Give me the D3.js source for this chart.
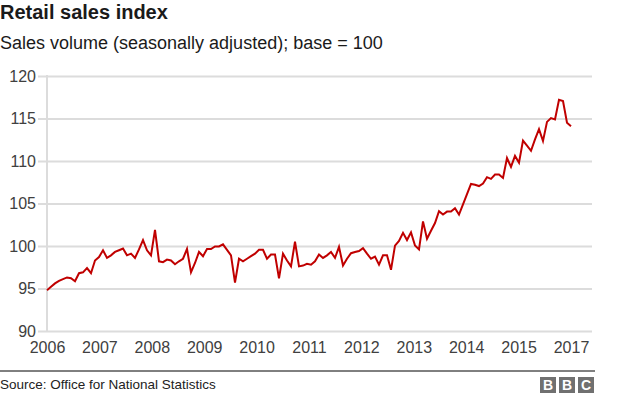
<!DOCTYPE html>
<html>
<head>
<meta charset="utf-8">
<script src="https://cdn.jsdelivr.net/npm/d3@7"></script>
<style>
  body { margin: 0; background: #fff; }
  svg text { font-family: "Liberation Sans", Arial, Helvetica, sans-serif; }
  .grid line { stroke: #dcdcdc; stroke-width: 2; }
  .grid text, .x-axis text { fill: #404040; font-size: 16px; }
</style>
</head>
<body>
<div id="chart"></div>
<script>
// monthly retail sales volume index, first to last month shown
const salesIndex = [
  94.8, 95.2, 95.6, 95.9, 96.1, 96.3, 96.2, 95.85, 96.8, 96.9, 97.4, 96.8,
  98.3, 98.7, 99.5, 98.6, 98.9, 99.3, 99.5, 99.7, 98.9, 99.1, 98.6, 99.6,
  100.7, 99.5, 98.9, 101.9, 98.2, 98.1, 98.4, 98.3, 97.85, 98.2, 98.5, 99.65,
  96.9, 98.0, 99.3, 98.8, 99.65, 99.65, 99.95, 99.95, 100.2, 99.55, 98.9, 95.7,
  98.5, 98.2, 98.5, 98.8, 99.1, 99.55, 99.55, 98.5, 99.0, 99.0, 96.2, 99.1,
  98.3, 97.6, 100.5, 97.6, 97.7, 97.9, 97.8, 98.2, 99.0, 98.6, 98.9, 99.3,
  98.6, 99.9, 97.7, 98.5, 99.15, 99.3, 99.4, 99.75, 99.1, 98.5, 98.75, 97.8,
  98.9, 98.9, 97.2, 100.05, 100.6, 101.55, 100.7, 101.6, 100.05, 99.6, 102.9, 100.85,
  101.8, 102.7, 104.1, 103.7, 104.05, 104.05, 104.45, 103.7, 104.9, 106.1, 107.3, 107.2,
  107.05, 107.35, 108.1, 107.9, 108.4, 108.4, 108.0, 110.35, 109.3, 110.6, 109.8, 112.4,
  111.8, 111.2, 112.55, 113.75, 112.35, 114.6, 115.05, 114.9, 117.2, 117.05, 114.5, 114.1
];
const yearLabels = ['2006', '2007', '2008', '2009', '2010', '2011', '2012', '2013', '2014', '2015', '2017'];
const yTicks = [90, 95, 100, 105, 110, 115, 120];

const width = 624, height = 398;
const plot = { left: 47, right: 592, dataRight: 571, top: 76, bottom: 331 };

const svg = d3.select('#chart').append('svg')
  .attr('width', width)
  .attr('height', height);

const x = d3.scaleLinear()
  .domain([0, salesIndex.length - 1])
  .range([plot.left, plot.dataRight]);

const y = d3.scaleLinear()
  .domain([90, 120])
  .range([plot.bottom, plot.top]);

// titles
svg.append('text')
  .attr('x', 0).attr('y', 19)
  .attr('font-size', 20).attr('font-weight', 'bold').attr('fill', '#1a1a1a')
  .text('Retail sales index');
svg.append('text')
  .attr('x', 0).attr('y', 49)
  .attr('font-size', 18).attr('fill', '#1a1a1a')
  .text('Sales volume (seasonally adjusted); base = 100');

// gridlines + y labels
const yAxis = d3.axisLeft(y)
  .tickValues(yTicks)
  .tickSize(-(plot.right - 38))
  .tickPadding(2);
svg.append('g')
  .attr('class', 'grid')
  .attr('transform', 'translate(38,0)')
  .call(yAxis)
  .call(g => g.select('.domain').remove());

svg.append('line')
  .attr('x1', plot.left).attr('x2', plot.left)
  .attr('y1', plot.top - 1).attr('y2', plot.bottom + 1)
  .attr('stroke', '#dcdcdc').attr('stroke-width', 2);

// x labels are spread evenly along the axis
const n = salesIndex.length - 1;
const xAxis = d3.axisBottom(x)
  .tickValues(yearLabels.map((d, i) => i * n / (yearLabels.length - 1)))
  .tickFormat((d, i) => yearLabels[i])
  .tickSize(0)
  .tickPadding(11);
svg.append('g')
  .attr('class', 'x-axis')
  .attr('transform', `translate(0,${plot.bottom})`)
  .call(xAxis)
  .call(g => g.select('.domain').remove());

// the line
const line = d3.line()
  .x((d, i) => x(i))
  .y(d => y(d));
svg.append('path')
  .datum(salesIndex)
  .attr('d', line)
  .attr('fill', 'none')
  .attr('stroke', '#c00000')
  .attr('stroke-width', 2)
  .attr('stroke-linejoin', 'miter');

// footer
svg.append('line')
  .attr('x1', 0).attr('x2', plot.right + 3)
  .attr('y1', 371).attr('y2', 371)
  .attr('stroke', '#000').attr('stroke-width', 1);
svg.append('text')
  .attr('x', 0).attr('y', 389)
  .attr('font-size', 13.5).attr('fill', '#222')
  .text('Source: Office for National Statistics');

const logo = svg.append('g').attr('transform', 'translate(540,377)');
['B', 'B', 'C'].forEach((ch, i) => {
  logo.append('rect')
    .attr('x', i * 19).attr('y', 0)
    .attr('width', 16).attr('height', 16)
    .attr('fill', '#707070');
  logo.append('text')
    .attr('x', i * 19 + 8).attr('y', 13)
    .attr('text-anchor', 'middle')
    .attr('font-size', 14).attr('font-weight', 'bold').attr('fill', '#fff')
    .text(ch);
});
</script>
</body>
</html>
